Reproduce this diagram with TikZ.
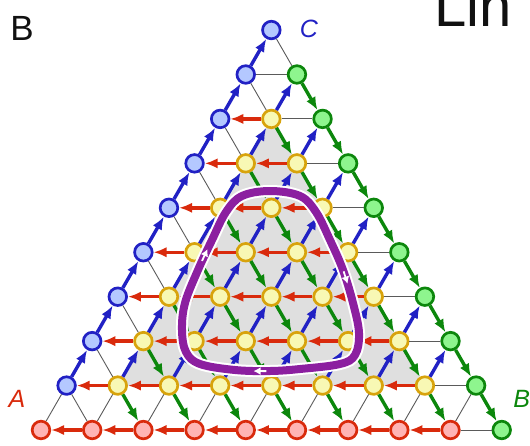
\documentclass[tikz,border=0pt]{standalone}
\usepackage{fontspec}
\setmainfont{Liberation Sans}
\usepackage{tikz}
\usetikzlibrary{arrows.meta,backgrounds,decorations.markings}
\definecolor{ink}{HTML}{111111}
\definecolor{edgegray}{HTML}{5A5A5A}
\definecolor{shadegray}{HTML}{DFDFDF}
\definecolor{redline}{HTML}{D92A0C}
\definecolor{redpale}{HTML}{FFB4B4}
\definecolor{blueline}{HTML}{2121C4}
\definecolor{bluepale}{HTML}{B4C8FF}
\definecolor{greenline}{HTML}{0C870C}
\definecolor{greenpale}{HTML}{8EF58E}
\definecolor{goldline}{HTML}{D8A30C}
\definecolor{goldpale}{HTML}{F8F8B4}
\definecolor{loopviolet}{HTML}{8C1FA0}
\tikzset{
  >={Latex[length=6.5pt,width=5.2pt]},
  site/.style={circle,minimum size=8.8pt,inner sep=0pt,line width=1.35pt},
  thinedge/.style={line width=.45pt,color=edgegray},
  redflow/.style={->,line width=1.7pt,color=redline},
  blueflow/.style={->,line width=1.7pt,color=blueline},
  greenflow/.style={->,line width=1.7pt,color=greenline},
  corner/.style={font=\itshape\fontsize{12.5}{14}\selectfont,inner sep=0pt},
  whitetip/.style={white,line width=.9pt,-{Latex[length=3.6pt,width=4pt]}},
}

\begin{document}
\begin{tikzpicture}[x=.5pt,y=-.5pt]
  \useasboundingbox (0,0) rectangle (530,445);
  \clip (0,0) rectangle (530,445);
  % lattice sites
  \foreach \r in {0,...,9}{
    \pgfmathtruncatemacro{\imax}{9-\r}
    \foreach \i in {0,...,\imax}{
      \def\lc{goldline}\def\fc{goldpale}
      \ifnum\r=0 \def\lc{redline}\def\fc{redpale}\fi
      \ifnum\i=0 \ifnum\r>0 \def\lc{blueline}\def\fc{bluepale}\fi\fi
      \ifnum\i=\imax \ifnum\r<9 \def\lc{greenline}\def\fc{greenpale}\fi\fi
      \node[site,draw=\lc,fill=\fc] (n-\i-\r) at ({41+51.19*(\i+\r/2)},{430-44.44*\r}) {};
    }
  }
  \begin{scope}[on background layer]
    \fill[shadegray] (n-1-1.center) -- (n-7-1.center) -- (n-1-7.center) -- cycle;
  \end{scope}
  % horizontal
  \foreach \r in {0,...,8}{
    \pgfmathtruncatemacro{\imax}{8-\r}
    \foreach \i in {0,...,\imax}{
      \pgfmathtruncatemacro{\j}{\i+1}
      \ifnum\i=\imax \draw[thinedge] (n-\i-\r) -- (n-\j-\r);
      \else \draw[redflow] (n-\j-\r) -- (n-\i-\r); \fi
    }
  }
  % up right
  \foreach \r in {0,...,8}{
    \pgfmathtruncatemacro{\imax}{8-\r}
    \pgfmathtruncatemacro{\s}{\r+1}
    \foreach \i in {0,...,\imax}{
      \ifnum\r=0 \draw[thinedge] (n-\i-\r) -- (n-\i-\s);
      \else \draw[blueflow] (n-\i-\r) -- (n-\i-\s); \fi
    }
  }
  % down right
  \foreach \r in {1,...,9}{
    \pgfmathtruncatemacro{\imax}{9-\r}
    \pgfmathtruncatemacro{\s}{\r-1}
    \foreach \i in {0,...,\imax}{
      \pgfmathtruncatemacro{\j}{\i+1}
      \ifnum\i=0 \draw[thinedge] (n-\i-\r) -- (n-\j-\s);
      \else \draw[greenflow] (n-\i-\r) -- (n-\j-\s); \fi
    }
  }
  \draw[loopviolet,line width=4pt,preaction={draw=white,line width=6pt},
    postaction={decorate},decoration={markings,
      mark=at position .165 with {\draw[whitetip] (-4pt,0) -- (2.5pt,0);},
      mark=at position .47 with {\draw[whitetip] (-4pt,0) -- (2.5pt,0);},
      mark=at position .78 with {\draw[whitetip] (-4pt,0) -- (2.5pt,0);}}]
    plot[smooth cycle,tension=.6] coordinates {(270,191) (300,196) (316,212) (330,240)
      (343,270) (353,303) (359,333) (355,355) (340,364) (300,369) (270,371) (235,370)
      (200,364) (186,352) (182,330) (185,303) (198,270) (212,240) (226,212) (242,196)};
  \node[corner,text=blueline] (labC) at (309,29) {C};
  \node[corner,text=redline] (labA) at (17,399) {A};
  \node[corner,text=greenline,anchor=west] (labB) at (513,399) {B};
  \node[font=\fontsize{17.5}{20}\selectfont,text=ink,anchor=base west,inner sep=0pt] (panel) at (10,40) {B};
  \node[font=\fontsize{29}{32}\selectfont,text=ink,anchor=base west,inner sep=0pt] (title) at (434,26) {Lin};
\end{tikzpicture}
\end{document}
